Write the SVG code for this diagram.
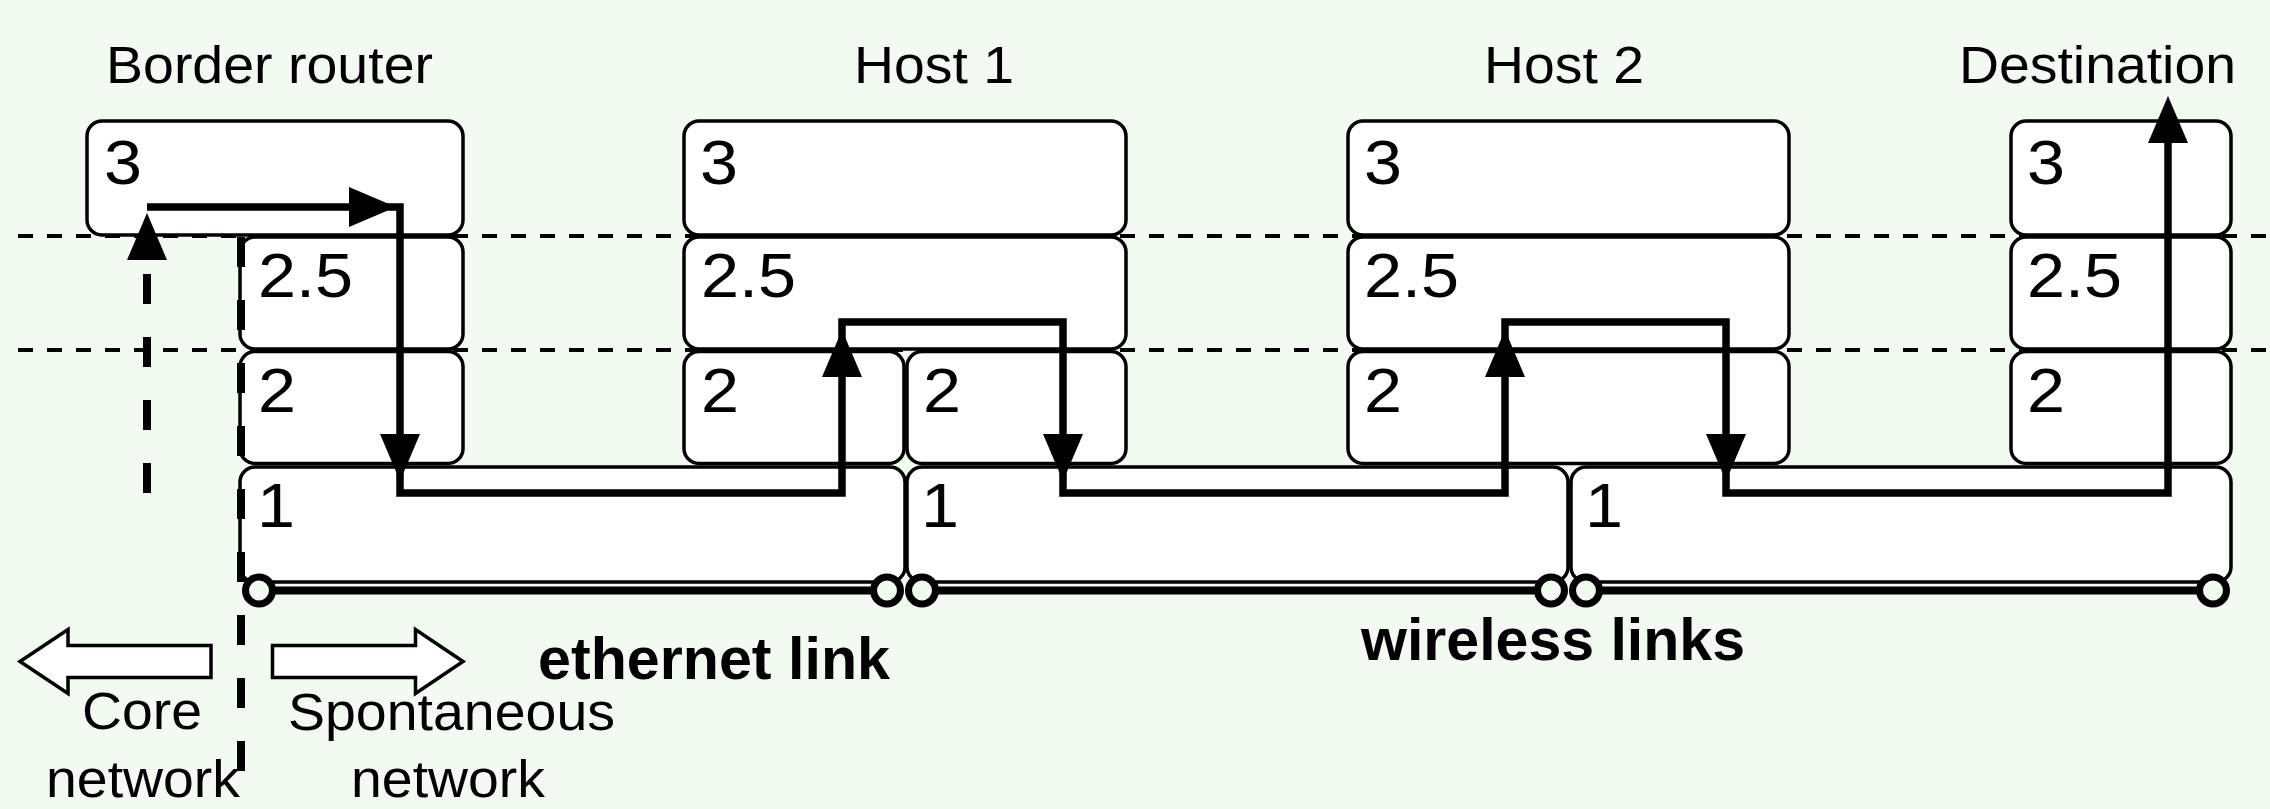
<svg xmlns="http://www.w3.org/2000/svg" width="2270" height="809" viewBox="0 0 2270 809">
<defs>
<style>
.bg{fill:#f2faf1}
.box{fill:#fff;stroke:#000;stroke-width:3.5}
.lvl{font-family:"Liberation Sans",Arial,Helvetica,sans-serif;font-size:63px;fill:#000}
.title{font-family:"Liberation Sans",Arial,Helvetica,sans-serif;font-size:51px;fill:#000}
.bold{font-family:"Liberation Sans",Arial,Helvetica,sans-serif;font-size:59px;font-weight:bold;fill:#000}
.layer{fill:none;stroke:#000;stroke-width:4;stroke-dasharray:15 14}
.flow{fill:none;stroke:#000;stroke-width:7.5;stroke-linejoin:miter}
.dash{fill:none;stroke:#000;stroke-width:8;stroke-dasharray:30 33}
.link{stroke:#000;stroke-width:8}
.port{fill:#f2faf1;stroke:#000;stroke-width:7}
.big{fill:#fff;stroke:#000;stroke-width:3.5;stroke-linejoin:miter}
</style>
<polygon id="ah" points="0,0 -47,-20 -47,20"/>
</defs>
<rect class="bg" x="0" y="0" width="2270" height="809"/>

<g id="layer-boundaries">
<line class="layer" x1="18" y1="236" x2="2270" y2="236"/>
<line class="layer" x1="18" y1="350" x2="2270" y2="350"/>
</g>

<g id="border-router">
<text class="title" x="106" y="83" textLength="327" lengthAdjust="spacingAndGlyphs">Border router</text>
<rect class="box" x="87" y="121" width="376" height="114" rx="15"/>
<text class="lvl" x="104" y="184" textLength="38" lengthAdjust="spacingAndGlyphs">3</text>
<rect class="box" x="240" y="237" width="223" height="112" rx="15"/>
<text class="lvl" x="258" y="297" textLength="95" lengthAdjust="spacingAndGlyphs">2.5</text>
<rect class="box" x="240" y="351.5" width="223" height="112" rx="15"/>
<text class="lvl" x="258" y="412" textLength="38" lengthAdjust="spacingAndGlyphs">2</text>
</g>

<g id="ethernet-layer1">
<rect class="box" x="240" y="467" width="665" height="115" rx="15"/>
<text class="lvl" x="257" y="527" textLength="38" lengthAdjust="spacingAndGlyphs">1</text>
</g>

<g id="host1">
<text class="title" x="854" y="83" textLength="160" lengthAdjust="spacingAndGlyphs">Host 1</text>
<rect class="box" x="684" y="121" width="442" height="114" rx="15"/>
<text class="lvl" x="700" y="184" textLength="38" lengthAdjust="spacingAndGlyphs">3</text>
<rect class="box" x="684" y="237" width="442" height="112" rx="15"/>
<text class="lvl" x="701" y="297" textLength="95" lengthAdjust="spacingAndGlyphs">2.5</text>
<rect class="box" x="684" y="351.5" width="220" height="112" rx="15"/>
<text class="lvl" x="701" y="412" textLength="38" lengthAdjust="spacingAndGlyphs">2</text>
<rect class="box" x="907" y="351.5" width="219" height="112" rx="15"/>
<text class="lvl" x="923" y="412" textLength="38" lengthAdjust="spacingAndGlyphs">2</text>
</g>

<g id="wireless-layer1-a">
<rect class="box" x="907" y="467" width="661" height="115" rx="15"/>
<text class="lvl" x="921" y="527" textLength="38" lengthAdjust="spacingAndGlyphs">1</text>
</g>

<g id="host2">
<text class="title" x="1484" y="83" textLength="160" lengthAdjust="spacingAndGlyphs">Host 2</text>
<rect class="box" x="1348" y="121" width="441" height="114" rx="15"/>
<text class="lvl" x="1364" y="184" textLength="38" lengthAdjust="spacingAndGlyphs">3</text>
<rect class="box" x="1348" y="237" width="441" height="112" rx="15"/>
<text class="lvl" x="1364" y="297" textLength="95" lengthAdjust="spacingAndGlyphs">2.5</text>
<rect class="box" x="1348" y="351.5" width="441" height="112" rx="15"/>
<text class="lvl" x="1364" y="412" textLength="38" lengthAdjust="spacingAndGlyphs">2</text>
</g>

<g id="wireless-layer1-b">
<rect class="box" x="1571" y="467" width="660" height="115" rx="15"/>
<text class="lvl" x="1585" y="527" textLength="38" lengthAdjust="spacingAndGlyphs">1</text>
</g>

<g id="destination">
<text class="title" x="1959" y="83" textLength="277" lengthAdjust="spacingAndGlyphs">Destination</text>
<rect class="box" x="2011" y="121" width="220" height="114" rx="15"/>
<text class="lvl" x="2027" y="184" textLength="38" lengthAdjust="spacingAndGlyphs">3</text>
<rect class="box" x="2011" y="237" width="220" height="112" rx="15"/>
<text class="lvl" x="2027" y="297" textLength="95" lengthAdjust="spacingAndGlyphs">2.5</text>
<rect class="box" x="2011" y="351.5" width="220" height="112" rx="15"/>
<text class="lvl" x="2027" y="412" textLength="38" lengthAdjust="spacingAndGlyphs">2</text>
</g>

<g id="connectors">
<line class="link" x1="259" y1="590.5" x2="887" y2="590.5"/>
<line class="link" x1="922" y1="590.5" x2="1551" y2="590.5"/>
<line class="link" x1="1586" y1="590.5" x2="2213" y2="590.5"/>
<circle class="port" cx="259" cy="590.5" r="13.5"/>
<circle class="port" cx="887" cy="590.5" r="13.5"/>
<circle class="port" cx="922" cy="590.5" r="13.5"/>
<circle class="port" cx="1551" cy="590.5" r="13.5"/>
<circle class="port" cx="1586" cy="590.5" r="13.5"/>
<circle class="port" cx="2213" cy="590.5" r="13.5"/>
<path class="dash" d="M147,493 V262"/>
<use href="#ah" transform="translate(147,213) rotate(-90)"/>
<path class="flow" d="M147,207 H400 V493 H842 V322 H1063 V493 H1505 V322 H1726 V493 H2168 V130"/>
<use href="#ah" transform="translate(396,207)"/>
<use href="#ah" transform="translate(400,481) rotate(90)"/>
<use href="#ah" transform="translate(842,330) rotate(-90)"/>
<use href="#ah" transform="translate(1063,481) rotate(90)"/>
<use href="#ah" transform="translate(1505,330) rotate(-90)"/>
<use href="#ah" transform="translate(1726,481) rotate(90)"/>
<use href="#ah" transform="translate(2168,96) rotate(-90)"/>
</g>

<g id="network-boundary">
<path class="dash" d="M241,237 V775"/>
<polygon class="big" points="20,661.5 68,629.5 68,645.5 211,645.5 211,677.5 68,677.5 68,693.5"/>
<polygon class="big" points="463,661.5 415.5,629.5 415.5,645.5 272.5,645.5 272.5,677.5 415.5,677.5 415.5,693.5"/>
<text class="title" x="82" y="729" textLength="120" lengthAdjust="spacingAndGlyphs">Core</text>
<text class="title" x="46" y="797" textLength="194" lengthAdjust="spacingAndGlyphs">network</text>
<text class="title" x="288" y="730" textLength="327" lengthAdjust="spacingAndGlyphs">Spontaneous</text>
<text class="title" x="351" y="797" textLength="194" lengthAdjust="spacingAndGlyphs">network</text>
</g>

<g id="link-labels">
<text class="bold" x="538" y="679" textLength="352" lengthAdjust="spacingAndGlyphs">ethernet link</text>
<text class="bold" x="1361" y="660" textLength="384" lengthAdjust="spacingAndGlyphs">wireless links</text>
</g>
</svg>
